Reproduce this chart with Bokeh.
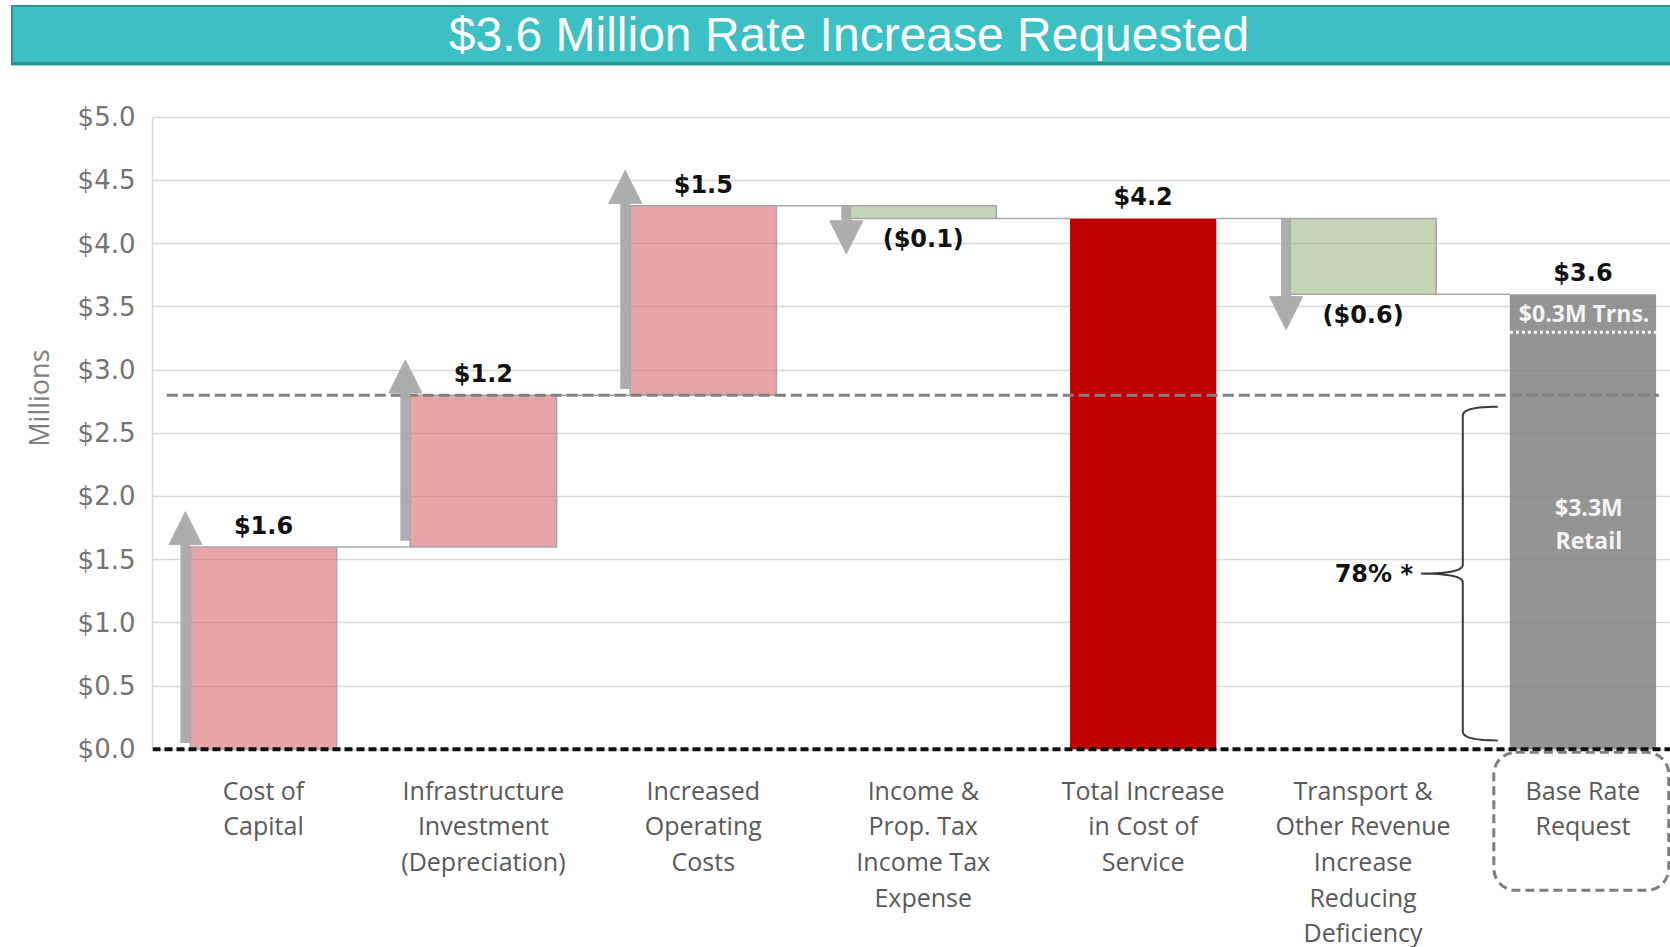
import numpy as np
from bokeh.plotting import figure
from bokeh.models import (ColumnDataSource, Range1d, FixedTicker, PrintfTickFormatter,
                          Span, BoxAnnotation, Arrow, NormalHead, Div, Title)
from bokeh.layouts import column
from bokeh.core.properties import value
from bokeh.embed import file_html
from bokeh.resources import INLINE

# ---------------- data ----------------
title_text = "$3.6 Million Rate Increase Requested"
categories = ["Cost of\nCapital",
              "Infrastructure\nInvestment\n(Depreciation)",
              "Increased\nOperating\nCosts",
              "Income &\nProp. Tax\nIncome Tax\nExpense",
              "Total Increase\nin Cost of\nService",
              "Transport &\nOther Revenue\nIncrease\nReducing\nDeficiency",
              "Base Rate\nRequest"]
changes = [1.6, 1.2, 1.5, -0.1, 4.2, -0.6, 3.6]
kinds = ["step", "step", "step", "step", "total", "step", "total"]
base_retail = 3.3
base_transport = 0.3
retail_label = "$3.3M\nRetail"
transport_label = "$0.3M  Trns."
y_ticks = [0.0, 0.5, 1.0, 1.5, 2.0, 2.5, 3.0, 3.5, 4.0, 4.5, 5.0]
y_axis_title = "Millions"

# ---------------- derived ----------------
n = len(categories)
xs = list(range(n))
bottoms, tops, ends = [], [], []
running = 0.0
for v, k in zip(changes, kinds):
    if k == "total":
        b, t = 0.0, v
        running = v
    else:
        nxt = round(running + v, 6)
        b, t = min(running, nxt), max(running, nxt)
        running = nxt
    bottoms.append(b)
    tops.append(t)
    ends.append(running)

W = 0.665  # bar width (category units)

def fmt(v):
    return f"${v:.1f}" if v >= 0 else f"(${-v:.1f})"

up_idx = [i for i in xs if kinds[i] == "step" and changes[i] > 0]
dn_idx = [i for i in xs if kinds[i] == "step" and changes[i] < 0]
tot_idx = [i for i in xs if kinds[i] == "total"]
last = tot_idx[-1]

# ---------------- title bar (HTML) ----------------
title_html = (
    '<div style="box-sizing:border-box; margin:5px 0 0 11px; width:1659px; height:60px;'
    ' padding-left:15px; background:#3CC0C4; border-top:2px solid #2A9393;'
    ' border-bottom:3px solid #2A9393; border-left:2px solid #2A9393;'
    ' box-shadow:0 1px 0 #9AD4D4;'
    " color:#FFFFFF; font-family:'Liberation Sans', Arial, sans-serif; font-size:48px;"
    ' line-height:56px; text-align:center; white-space:nowrap; overflow:hidden;">'
    + title_text + '</div>'
)
title_div = Div(text=title_html, width=1670, height=66, disable_math=True, margin=0)

# ---------------- main chart ----------------
p = figure(frame_width=1518, frame_height=826,
           x_range=Range1d(-0.5048, 6.398), y_range=Range1d(-1.505, 5.03),
           toolbar_location=None, output_backend="svg",
           min_border_left=152, min_border_right=0, min_border_top=47, min_border_bottom=2,
           outline_line_color=None, background_fill_color="white", border_fill_color="white")

# grid / axes
p.xgrid.visible = False
p.ygrid.ticker = FixedTicker(ticks=y_ticks)
p.ygrid.grid_line_color = "#D9D9D9"
p.ygrid.grid_line_width = 1.5

p.yaxis.ticker = FixedTicker(ticks=y_ticks)
p.yaxis.formatter = PrintfTickFormatter(format="$%.1f")
p.yaxis.bounds = (0, 5)
p.yaxis.axis_line_color = "#D9D9D9"
p.yaxis.axis_line_width = 1.5
p.yaxis.major_tick_line_color = None
p.yaxis.minor_tick_line_color = None
p.yaxis.major_label_text_font = "DejaVu Sans"
p.yaxis.major_label_text_font_size = "26px"
p.yaxis.major_label_text_color = "#737373"
p.yaxis.major_label_standoff = 11

# vertical "Millions" title on the left, placed where the original has it
p.add_layout(Title(text=y_axis_title, align="right", offset=236, standoff=33,
                   vertical_align="middle",
                   text_font="Open Sans", text_font_size="27px", text_font_style="normal",
                   text_color="#7F7F7F"), "left")

p.xaxis.ticker = FixedTicker(ticks=xs)
p.xaxis.major_label_overrides = {i: c for i, c in zip(xs, categories)}
p.xaxis.axis_line_color = None
p.xaxis.major_tick_line_color = None
p.xaxis.minor_tick_line_color = None
p.xaxis.major_tick_out = 0
p.xaxis.major_label_text_font = "Open Sans"
p.xaxis.major_label_text_font_size = "25px"
p.xaxis.major_label_text_color = "#595959"
p.xaxis.major_label_text_line_height = 1.05
p.xaxis.major_label_standoff = -167

# bars
def sub(idx):
    return ColumnDataSource(dict(x=[xs[i] for i in idx], b=[bottoms[i] for i in idx],
                                 t=[tops[i] for i in idx]))

p.vbar(x="x", bottom="b", top="t", width=W, source=sub(up_idx),
       fill_color="#D14B4D", fill_alpha=0.5, line_color="#A6A6A6", line_width=1.5)
p.vbar(x="x", bottom="b", top="t", width=W, source=sub(dn_idx),
       fill_color="#8BAD6F", fill_alpha=0.5, line_color="#A6A6A6", line_width=1.5)
p.vbar(x="x", bottom="b", top="t", width=W, source=sub(tot_idx[:1]),
       fill_color="#C00000", line_color=None)
p.vbar(x="x", bottom="b", top="t", width=W, source=sub(tot_idx[1:]),
       fill_color="#818181", fill_alpha=0.85, line_color=None)

# connectors
p.segment(x0=[xs[i] + W / 2 for i in xs[:-1]], x1=[xs[i + 1] - W / 2 for i in xs[:-1]],
          y0=ends[:-1], y1=ends[:-1], line_color="#A6A6A6", line_width=1.5)

# 78% reference line (cost of capital + infrastructure)
ref_level = ends[1]
p.segment(x0=[xs[0] - 0.44], x1=[xs[-1] + 0.345], y0=[ref_level], y1=[ref_level],
          line_color="#808080", line_width=3, line_dash="11 5")

# zero line
p.add_layout(Span(location=0, dimension="width", line_color="#111111",
                  line_width=4, line_dash="8 4"))

# base bar split
p.segment(x0=[xs[last] - W / 2], x1=[xs[last] + W / 2], y0=[base_retail], y1=[base_retail],
          line_color="white", line_width=3, line_dash="3 3")
p.text(x=[xs[last] - W / 2 + 0.041], y=[base_retail + base_transport / 2], text=[transport_label],
       text_font=value("Open Sans"), text_font_style="bold", text_font_size="23px",
       text_color="#F4F4F4", text_align="left", text_baseline="middle")
p.text(x=[xs[last] + 0.027], y=[base_retail / 2], y_offset=-17, text=[retail_label],
       text_font=value("Open Sans"), text_font_style="bold", text_font_size="23px",
       text_color="#F4F4F4", text_align="center", text_baseline="middle",
       text_line_height=1.04)

# arrows
ax0, ay0, ax1, ay1 = [], [], [], []
for i in up_idx:
    ax0.append(xs[i] - 0.355); ax1.append(xs[i] - 0.355)
    ay0.append(bottoms[i] + 0.05); ay1.append(tops[i] + 0.28)
for i in dn_idx:
    ax0.append(xs[i] - 0.35); ax1.append(xs[i] - 0.35)
    ay0.append(tops[i]); ay1.append(bottoms[i] - 0.28)
p.add_layout(Arrow(source=ColumnDataSource(dict(x0=ax0, y0=ay0, x1=ax1, y1=ay1)),
                   x_start="x0", y_start="y0", x_end="x1", y_end="y1",
                   line_color="#ADADAD", line_width=10,
                   end=NormalHead(size=33, fill_color="#ADADAD", line_color="#ADADAD",
                                  line_width=1)))

# value labels
pos = [i for i in xs if changes[i] >= 0]
neg = [i for i in xs if changes[i] < 0]
p.text(x=[xs[i] for i in pos], y=[tops[i] for i in pos], y_offset=-21,
       text=[fmt(changes[i]) for i in pos], text_font=value("DejaVu Sans"),
       text_font_style="bold", text_font_size="24px", text_color="#111111",
       text_align="center", text_baseline="middle")
p.text(x=[xs[i] for i in neg], y=[bottoms[i] for i in neg], y_offset=21,
       text=[fmt(changes[i]) for i in neg], text_font=value("DejaVu Sans"),
       text_font_style="bold", text_font_size="24px", text_color="#111111",
       text_align="center", text_baseline="middle")

# brace with percentage
def qbez(a, c, b, m=14):
    t = np.linspace(0, 1, m)[:, None]
    a, c, b = np.array(a), np.array(c), np.array(b)
    return (1 - t) ** 2 * a + 2 * (1 - t) * t * c + t ** 2 * b

xb = xs[last] - W / 2 - 0.214
xe = xs[last] - W / 2 - 0.055
xt = xb - 0.19
y0b = 0.07
y1b = ref_level - 0.09
ym = (y0b + y1b) / 2
r = 0.07
pts = np.vstack([
    qbez((xe, y1b), (xb, y1b), (xb, y1b - r)),
    qbez((xb, ym + r), (xb, ym), (xt, ym)),
    qbez((xt, ym), (xb, ym), (xb, ym - r)),
    qbez((xb, y0b + r), (xb, y0b), (xe, y0b)),
])
p.line(x=pts[:, 0], y=pts[:, 1], line_color="#3A3A3A", line_width=2)
pct = round(ref_level / changes[last] * 100)
p.text(x=[xt], y=[ym], x_offset=-8, text=[f"{pct}% *"], text_font=value("DejaVu Sans"),
       text_font_style="bold", text_font_size="24px", text_color="#111111",
       text_align="right", text_baseline="middle")

# dashed rounded box around the last category label
p.add_layout(BoxAnnotation(left=xs[last] - W / 2 - 0.073, right=xs[last] + 0.39,
                           top=-0.024, bottom=-1.116, fill_color=None, fill_alpha=0,
                           line_color="#7F7F7F", line_alpha=1.0, line_width=3,
                           line_dash="9 5", border_radius=22))

layout = column(title_div, p, spacing=0)
open("out.html", "w").write(file_html(layout, INLINE))
